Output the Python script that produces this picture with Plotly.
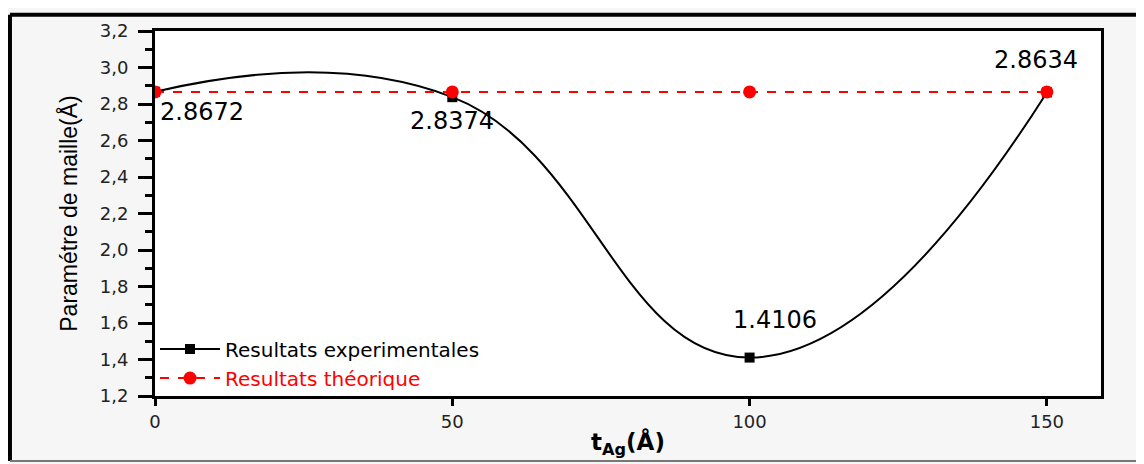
import plotly.graph_objects as go

# Data
thickness = [0, 50, 100, 150]                     # t_Ag (Å)
exp_values = [2.8672, 2.8374, 1.4106, 2.8634]     # Résultats expérimentales
theo_values = [2.866, 2.866, 2.866, 2.866]        # Résultats théorique
x_ticks = [0, 50, 100, 150]
y_ticks = [1.2, 1.4, 1.6, 1.8, 2.0, 2.2, 2.4, 2.6, 2.8, 3.0, 3.2]

FONT = "DejaVu Sans, Liberation Sans, Arial, sans-serif"

fig = go.Figure()

fig.add_trace(go.Scatter(
    x=thickness, y=exp_values, mode="lines+markers",
    name="Resultats experimentales",
    line=dict(color="black", width=2, shape="spline", smoothing=1.3),
    marker=dict(symbol="square", size=10, color="black"),
))
fig.add_trace(go.Scatter(
    x=thickness, y=theo_values, mode="lines+markers",
    name="<span style='color:#ff0000'>Resultats théorique</span>",
    line=dict(color="#ff0000", width=2, dash="dash"),
    marker=dict(symbol="circle", size=13, color="#ff0000"),
))

# value labels
label_pos = [
    dict(xanchor="left", yanchor="top", xshift=3, yshift=-4),
    dict(xanchor="center", yanchor="top", xshift=0, yshift=-8),
    dict(xanchor="center", yanchor="bottom", xshift=25, yshift=22),
    dict(xanchor="center", yanchor="bottom", xshift=-11, yshift=16),
]
for x, v, p in zip(thickness, exp_values, label_pos):
    fig.add_annotation(x=x, y=v, xref="x", yref="y", text=f"{v:.4f}",
                       showarrow=False, font=dict(family=FONT, size=24, color="black"), **p)

# outer frame lines
fig.add_shape(type="line", xref="paper", yref="paper", x0=-0.1533, x1=1.06,
              y0=1.0446, y1=1.0446, line=dict(color="black", width=4))
fig.add_shape(type="line", xref="paper", yref="paper", x0=-0.1533, x1=-0.1533,
              y0=1.0446, y1=-0.1784, line=dict(color="black", width=4))
fig.add_shape(type="line", xref="paper", yref="paper", x0=-0.1533, x1=1.06,
              y0=-0.1784, y1=-0.1784, line=dict(color="#777777", width=2))

fig.update_layout(
    width=1136, height=456,
    margin=dict(l=147, r=43, t=18, b=68),
    paper_bgcolor="#f6f6f6",
    plot_bgcolor="white",
    separators=",.",
    font=dict(family=FONT, color="black"),
    showlegend=True,
    legend=dict(x=0.0, y=0.182, xanchor="left", yanchor="top",
                bgcolor="rgba(0,0,0,0)", font=dict(family=FONT, size=20),
                tracegroupgap=0, itemwidth=60),
)

fig.update_xaxes(
    range=[0, 159.1], tickvals=x_ticks, ticktext=[str(t) for t in x_ticks],
    showline=True, linewidth=3, linecolor="black", mirror=True,
    ticks="outside", ticklen=7, tickwidth=3, tickcolor="black",
    showgrid=False, zeroline=False,
    tickfont=dict(family=FONT, size=18, color="#222"),
    title=dict(text="<b>t<sub>Ag</sub>(Å)</b>", font=dict(family=FONT, size=23), standoff=4),
)
fig.update_yaxes(
    range=[1.2, 3.2], tickvals=y_ticks, tickformat=".1f",
    showline=True, linewidth=3, linecolor="black", mirror=True,
    ticks="outside", ticklen=14, tickwidth=3, tickcolor="black",
    minor=dict(dtick=0.1, ticks="outside", ticklen=7, tickwidth=3, tickcolor="black"),
    showgrid=False, zeroline=False,
    ticklabelstandoff=6,
    tickfont=dict(family=FONT, size=18, color="#222"),
    title=dict(text="Paramétre de maille(Å)",
               font=dict(family="Liberation Sans Narrow, Liberation Sans, Arial", size=23),
               standoff=16),
)

fig.write_html("out.html")
